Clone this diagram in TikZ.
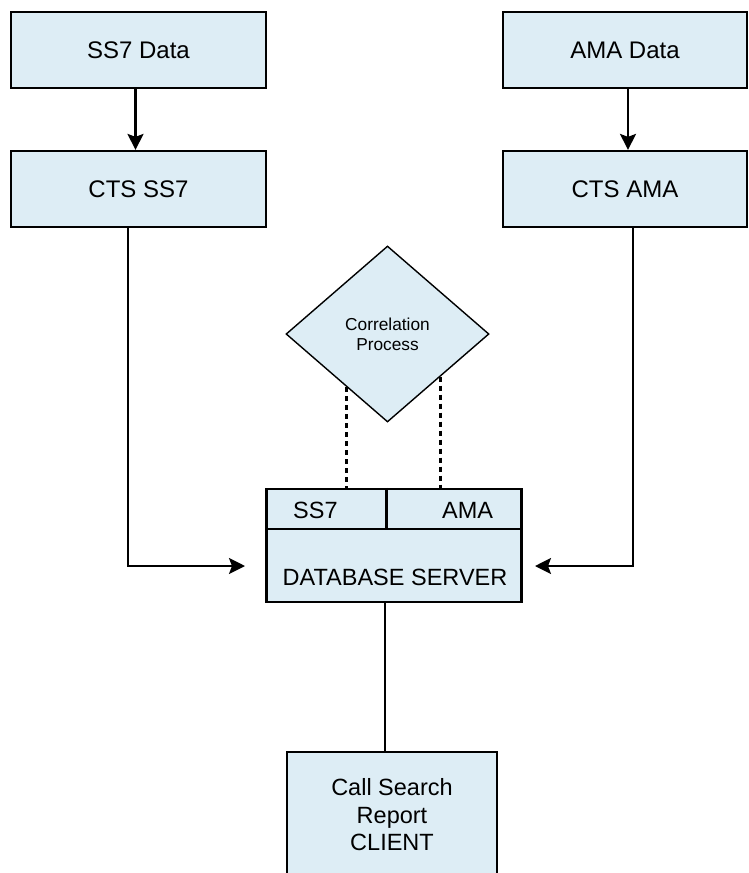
\documentclass[tikz,border=0pt]{standalone}
\usepackage{fontspec}
\setmainfont{Liberation Sans}
\usetikzlibrary{shapes.geometric,arrows.meta,calc}
\definecolor{boxfill}{RGB}{221,237,245}
\begin{document}
\begin{tikzpicture}[x=1pt,y=-1pt,
  box/.style={draw=black, fill=boxfill, line width=2.2pt, minimum width=255pt,
    minimum height=76pt, inner sep=0pt, font=\fontsize{24}{28}\selectfont},
  lbl/.style={inner sep=0pt, font=\fontsize{23.5}{28}\selectfont},
  conn/.style={line width=2.2pt},
  arr/.style={conn, -{Stealth[length=16pt,width=16pt,inset=3pt]}},
  dots/.style={line width=2.4pt, dash pattern=on 5pt off 4pt},
]
\useasboundingbox (0,0) rectangle (748,873);
\clip (0,0) rectangle (748,873);

% input chains
\node[box] (ss7data) at (138.5,50) {SS7 Data};
\node[box] (ctsss7) at (138.5,189) {CTS SS7};
\node[box, minimum width=244pt] (amadata) at (625,50) {AMA Data};
\node[box, minimum width=244pt] (ctsama) at (625,189) {CTS AMA};

\draw[arr] ($(ss7data.south)+(-3,0)$) -- ($(ctsss7.north)+(-3,0)$);
\draw[arr] ($(amadata.south)+(3,0)$) -- ($(ctsama.north)+(3,0)$);

% database server with its two tables
\node[box, minimum height=113pt] (db) at (394,545.5) {};
\draw[conn] ($(db.north west)+(0,41)$) -- ($(db.north east)+(0,41)$);
\draw[conn] ($(db.north west)+(121,0)$) -- ($(db.north west)+(121,41)$);
\node[lbl, anchor=base west] (dbss7) at (293,518) {SS7};
\node[lbl, anchor=base west] (dbama) at (442,518) {AMA};
\node[lbl, anchor=base] (dbname) at (395,585) {DATABASE SERVER};

% feeds into the database
\coordinate (inL) at (245,566);
\coordinate (inR) at (535,566);
\draw[arr] ($(ctsss7.south)+(-10.5,0)$) |- (inL);
\draw[arr] ($(ctsama.south)+(8,0)$) |- (inR);

% correlation process
\node[draw=black, fill=boxfill, shape=diamond, line width=1.4pt,
  minimum width=203pt, minimum height=176pt, inner sep=0pt, align=center,
  font=\fontsize{17.3}{20}\selectfont] (corr) at (387.5,334) {Correlation\\Process};
\coordinate (pl) at ($(corr.west)!0.6!(corr.south)$);
\coordinate (pr) at ($(corr.south)!0.52!(corr.east)$);
\draw[dots] (pl) -- (pl |- db.north);
\draw[dots] (pr) -- (pr |- db.north);

% client
\node[box, minimum width=210pt, minimum height=126pt, align=center,
  font=\fontsize{23.5}{27.5}\selectfont] (client) at (392,815) {Call Search\\Report\\CLIENT};
\draw[conn] ($(db.south)+(-9,0)$) -- ($(client.north)+(-7,0)$);
\end{tikzpicture}
\end{document}
